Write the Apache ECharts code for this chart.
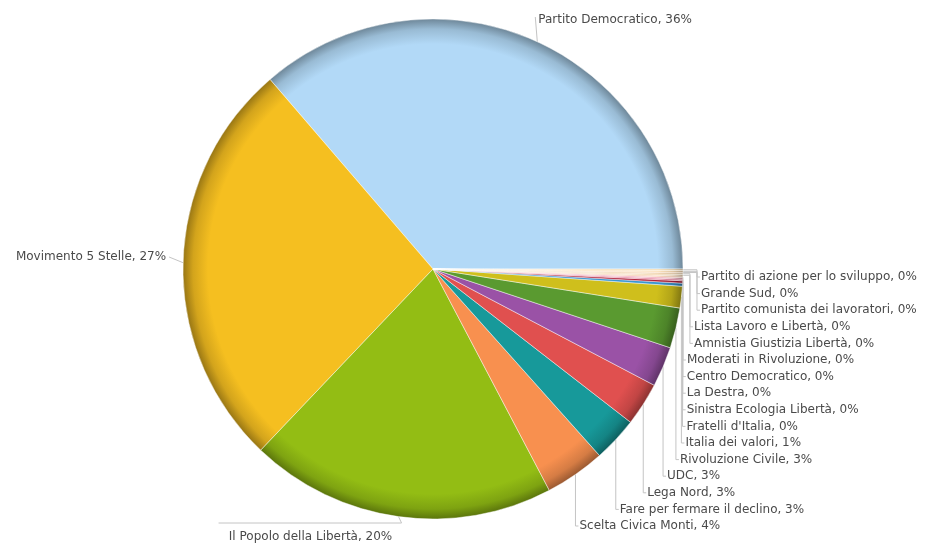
<!DOCTYPE html>
<html>
<head>
<meta charset="utf-8">
<title>Elezioni – ripartizione dei voti</title>
<script src="https://cdn.jsdelivr.net/npm/echarts@6/dist/echarts.min.js"></script>
<style>
  html, body { margin: 0; padding: 0; background: #ffffff; }
  #chart { width: 928px; height: 545px; }
</style>
</head>
<body>
<div id="chart"></div>
<script>
// Vote share per list (percent of valid votes)
const parties = [
  'Partito Democratico',
  'Movimento 5 Stelle',
  'Il Popolo della Libertà',
  'Scelta Civica Monti',
  'Fare per fermare il declino',
  'Lega Nord',
  'UDC',
  'Rivoluzione Civile',
  'Italia dei valori',
  "Fratelli d'Italia",
  'Sinistra Ecologia Libertà',
  'La Destra',
  'Centro Democratico',
  'Moderati in Rivoluzione',
  'Amnistia Giustizia Libertà',
  'Lista Lavoro e Libertà',
  'Partito comunista dei lavoratori',
  'Grande Sud',
  'Partito di azione per lo sviluppo'
];
const shares = [
  36.3, 26.6, 19.8, 3.9, 2.9, 2.8, 2.6, 2.6, 1.4,
  0.2, 0.15, 0.1, 0.1, 0.1, 0.1, 0.1, 0.05, 0.1, 0.1
];
const partyColors = [
  '#b2d9f7', '#f5bf20', '#93bd14', '#f8904f', '#17999a', '#e0504f',
  '#9a52a6', '#5a9a30', '#cfbf1c', '#3a96d0', '#b0203a', '#e07090',
  '#f0a0b4', '#f5c8a8', '#f0d0a0', '#ebc898', '#f3b880', '#f8d4a0', '#f5dcb0'
];

// Pie geometry
const CX = 433, CY = 269, R = 250;
const ROW_GAP = 16.6;      // vertical spacing of the stacked right-hand labels
const RIGHT_BASE_Y = 526;  // lowest right-hand label
const FIRST_STACKED = 3;   // labels from this index on are stacked on the right

function shade(hex, k) {
  const n = parseInt(hex.slice(1), 16);
  const r = Math.round(((n >> 16) & 255) * k);
  const g = Math.round(((n >> 8) & 255) * k);
  const b = Math.round((n & 255) * k);
  return 'rgb(' + r + ',' + g + ',' + b + ')';
}

function rimGradient(hex) {
  return {
    type: 'radial', x: CX, y: CY, r: R, global: true,
    colorStops: [
      { offset: 0, color: hex },
      { offset: 0.9, color: hex },
      { offset: 0.96, color: shade(hex, 0.86) },
      { offset: 1, color: shade(hex, 0.62) }
    ]
  };
}

// Mid-angle rim point of a slice (counter-clockwise from 3 o'clock)
const total = shares.reduce((a, b) => a + b, 0);
function rimPoint(idx) {
  let before = 0;
  for (let i = 0; i < idx; i++) before += shares[i];
  const a = ((before + shares[idx] / 2) / total) * Math.PI * 2;
  return [CX + R * Math.cos(a), CY - R * Math.sin(a)];
}

// extra indent of the uppermost right-hand labels, keyed by distance from the last slice
const topIndent = [14, 14, 14, 7, 7];

function placeLabel(params) {
  const i = params.dataIndex;
  const rim = rimPoint(i);
  const rx = rim[0], ry = rim[1];
  if (i === 0) {
    const ly = 20;
    return {
      x: rx + 1, y: ly, align: 'left', verticalAlign: 'middle',
      labelLinePoints: [[rx, ry], [rx - 2, ly - 3], [rx - 2, ly - 3]]
    };
  }
  if (i === 1) {
    const ly = 257;
    return {
      x: rx - 17, y: ly, align: 'right', verticalAlign: 'middle',
      labelLinePoints: [[rx, ry], [rx - 14, ly]]
    };
  }
  if (i === 2) {
    const ly = 537;
    return {
      x: rx - 88, y: ly, align: 'center', verticalAlign: 'middle',
      labelLinePoints: [[rx, ry], [rx + 3, 523], [rx - 180, 523]]
    };
  }
  const row = i - FIRST_STACKED;
  const ly = RIGHT_BASE_Y - ROW_GAP * row;
  const fromEnd = parties.length - 1 - i;
  const indent = fromEnd < topIndent.length ? topIndent[fromEnd] : 0;
  const lx = rx + 4 + indent;
  const lineX = lx - 4;
  return {
    x: lx, y: ly, align: 'left', verticalAlign: 'middle',
    labelLinePoints: [[rx, ry], [lineX, ry], [lineX, ly], [lx - 1, ly]]
  };
}

const chart = echarts.init(document.getElementById('chart'), null, { renderer: 'canvas' });

chart.setOption({
  animation: false,
  backgroundColor: '#ffffff',
  series: [{
    type: 'pie',
    center: [CX, CY],
    radius: R,
    startAngle: 0,
    clockwise: false,
    percentPrecision: 0,
    avoidLabelOverlap: false,
    data: parties.map((name, i) => ({
      name: name,
      value: shares[i],
      itemStyle: { color: rimGradient(partyColors[i]) }
    })),
    itemStyle: {
      borderColor: 'rgba(255,255,255,0.55)',
      borderWidth: 0.8
    },
    label: {
      show: true,
      formatter: '{b}, {d}%',
      fontFamily: 'DejaVu Sans, Verdana, sans-serif',
      fontSize: 12,
      color: '#4a4a4a'
    },
    labelLine: {
      show: true,
      length: 10,
      length2: 10,
      smooth: false,
      lineStyle: { color: '#c4c4c4', width: 1 }
    },
    labelLayout: placeLabel,
    emphasis: { disabled: true }
  }]
});
</script>
</body>
</html>
